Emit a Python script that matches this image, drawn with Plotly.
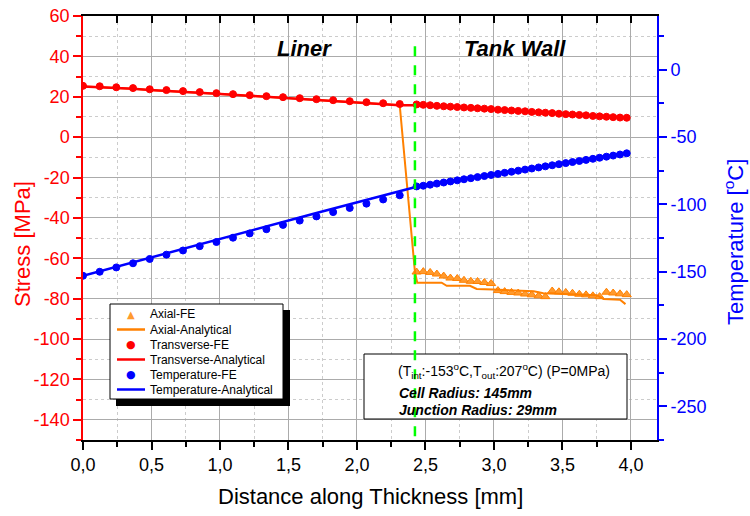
import plotly.graph_objects as go

# ---------------- data ----------------
# positions along thickness [mm]
x_liner = [0.000, 0.122, 0.243, 0.365, 0.487, 0.609, 0.730, 0.852, 0.974, 1.095,
           1.217, 1.339, 1.460, 1.582, 1.704, 1.826, 1.947, 2.069, 2.191, 2.312]
x_wall = [2.435, 2.484, 2.534, 2.583, 2.633, 2.682, 2.732, 2.781, 2.831, 2.880,
          2.930, 2.979, 3.029, 3.078, 3.128, 3.177, 3.227, 3.276, 3.326, 3.375,
          3.425, 3.474, 3.524, 3.573, 3.623, 3.672, 3.722, 3.771, 3.821, 3.870,
          3.920, 3.969]

# Transverse stress [MPa]
transverse_fe_liner = [25.4, 25.2, 24.7, 24.3, 23.7, 23.3, 22.8, 22.3, 21.8, 21.3,
                       20.8, 20.3, 19.8, 19.3, 18.8, 18.3, 17.8, 17.3, 16.8, 16.4]
transverse_fe_wall = [16.2, 16.0, 15.8, 15.5, 15.3, 15.1, 14.9, 14.7, 14.5, 14.3,
                      14.1, 13.9, 13.6, 13.4, 13.2, 13.0, 12.8, 12.5, 12.3, 12.1,
                      11.9, 11.6, 11.4, 11.2, 11.0, 10.8, 10.5, 10.3, 10.1, 9.9,
                      9.7, 9.6]
transverse_an_liner = [25.1, 24.8, 24.4, 24.0, 23.4, 23.0, 22.5, 22.0, 21.5, 21.0,
                       20.5, 20.0, 19.5, 19.0, 18.5, 18.0, 17.5, 17.0, 16.5, 15.8]
transverse_an_wall = [15.8, 15.6, 15.4, 15.2, 15.0, 14.8, 14.6, 14.4, 14.3, 14.1,
                      13.9, 13.7, 13.5, 13.3, 13.1, 12.9, 12.7, 12.5, 12.3, 12.1,
                      11.9, 11.7, 11.5, 11.3, 11.2, 11.0, 10.8, 10.6, 10.4, 10.2,
                      10.0, 9.9]

# Axial stress [MPa]
axial_fe_wall = [-66.8, -66.6, -67.0, -67.8, -68.8, -69.8, -70.0, -70.9, -71.4, -71.5,
                 -72.0, -72.5, -76.0, -76.5, -76.9, -77.2, -77.7, -78.1, -78.6, -79.0,
                 -76.2, -76.6, -76.9, -77.3, -77.8, -78.1, -78.6, -79.0, -76.8, -77.2,
                 -77.6, -78.0]
axial_an_x_tail = [2.423, 2.440, 2.618, 2.655, 2.825, 2.874, 2.995, 3.290, 3.360,
                   3.750, 3.800, 3.920, 3.960]
axial_an_tail = [-66.7, -72.1, -72.1, -73.6, -73.6, -75.2, -75.5, -76.3, -77.3,
                 -78.3, -80.2, -80.5, -82.7]

# Temperature [°C]
temp_fe_liner = [-153.0, -150.0, -146.8, -143.7, -140.5, -137.3, -134.2, -131.0, -127.9, -124.7,
                 -121.5, -118.4, -115.2, -112.0, -108.9, -105.7, -102.6, -99.4, -96.3, -93.2]
temp_fe_wall = [-86.6, -86.1, -85.3, -84.5, -83.7, -82.9, -82.1, -81.3, -80.5, -79.7,
                -78.9, -78.1, -77.3, -76.5, -75.7, -74.9, -74.1, -73.3, -72.5, -71.7,
                -70.9, -70.1, -69.3, -68.5, -67.7, -66.9, -66.1, -65.3, -64.5, -63.7,
                -62.9, -62.0]
temp_an_liner = [-153.0, -149.7, -146.3, -143.0, -139.7, -136.3, -133.0, -129.7, -126.3, -123.0,
                 -119.7, -116.3, -113.0, -109.7, -106.3, -103.0, -99.7, -96.3, -93.0, -89.7]
temp_an_wall = [-86.3, -85.5, -84.7, -83.9, -83.1, -82.3, -81.5, -80.7, -79.9, -79.1,
                -78.3, -77.5, -76.7, -75.9, -75.1, -74.3, -73.5, -72.7, -71.9, -71.1,
                -70.3, -69.5, -68.7, -67.9, -67.1, -66.3, -65.5, -64.7, -63.9, -63.1,
                -62.3, -61.5]

interface_x = 2.423

series_names = ["Axial-FE", "Axial-Analytical", "Transverse-FE",
                "Transverse-Analytical", "Temperature-FE", "Temperature-Analytical"]

# ticks
x_tick_vals = [0.0, 0.5, 1.0, 1.5, 2.0, 2.5, 3.0, 3.5, 4.0]
x_tick_text = ["0,0", "0,5", "1,0", "1,5", "2,0", "2,5", "3,0", "3,5", "4,0"]
y_tick_vals = [60, 40, 20, 0, -20, -40, -60, -80, -100, -120, -140]
y_tick_text = ["60", "40", "20", "0", "-20", "-40", "-60", "-80", "-100", "-120", "-140"]
t_tick_vals = [0, -50, -100, -150, -200, -250]
t_tick_text = ["0", "-50", "-100", "-150", "-200", "-250"]

# ---------------- figure ----------------
RED = "#FF0000"
BLUE = "#0000FF"
ORANGE = "#FF8000"
ORANGE_FE = "#FF9A2E"
FONT = "Arial, Liberation Sans, sans-serif"

# plot area in page pixels (body margin is removed by the post script)
PL, PR, PT, PB = 83, 657, 16, 440


def xp(px):
    return (px - PL) / (PR - PL)


def yp(py):
    return (PB - py) / (PB - PT)


fig = go.Figure()

fig.add_trace(go.Scatter(x=x_wall, y=axial_fe_wall, mode="markers", name=series_names[0],
                         marker=dict(symbol="triangle-up", size=8, color=ORANGE_FE,
                                     line=dict(color=ORANGE, width=1))))
fig.add_trace(go.Scatter(x=x_liner + axial_an_x_tail, y=transverse_an_liner + axial_an_tail,
                         mode="lines", name=series_names[1],
                         line=dict(color=ORANGE, width=2)))
fig.add_trace(go.Scatter(x=x_liner + x_wall, y=transverse_fe_liner + transverse_fe_wall,
                         mode="markers", name=series_names[2],
                         marker=dict(symbol="circle", size=7, color=RED,
                                     line=dict(color=RED, width=1))))
fig.add_trace(go.Scatter(x=x_liner + x_wall, y=transverse_an_liner + transverse_an_wall,
                         mode="lines", name=series_names[3],
                         line=dict(color=RED, width=2.5)))
fig.add_trace(go.Scatter(x=x_liner + x_wall, y=temp_fe_liner + temp_fe_wall,
                         mode="markers", name=series_names[4], yaxis="y2",
                         marker=dict(symbol="circle", size=7, color=BLUE,
                                     line=dict(color=BLUE, width=1))))
fig.add_trace(go.Scatter(x=x_liner + x_wall, y=temp_an_liner + temp_an_wall,
                         mode="lines", name=series_names[5], yaxis="y2",
                         line=dict(color=BLUE, width=2.5)))
# empty trace so that the top (frame) axis is drawn
fig.add_trace(go.Scatter(x=[], y=[], xaxis="x2", yaxis="y", showlegend=False,
                         hoverinfo="skip"))

MAJOR_GRID = "#ababab"
MINOR_GRID = "#cccccc"

W, H = 750, 516
fig.update_layout(
    width=W, height=H,
    margin=dict(l=PL, r=W - PR, t=PT, b=H - PB, autoexpand=False),
    paper_bgcolor="white", plot_bgcolor="white",
    font=dict(family=FONT, size=18, color="black"),
    separators=",.",
    showlegend=False,
    xaxis=dict(range=[0, 4.19], tickmode="array", tickvals=x_tick_vals, ticktext=x_tick_text,
               ticks="outside", ticklen=8, tickwidth=1.5, tickcolor="black", automargin=False,
               ticklabeloverflow="allow", mirror=True,
               showline=True, linecolor="black", linewidth=1.5,
               showgrid=True, gridcolor=MAJOR_GRID, gridwidth=1, zeroline=False,
               tickfont=dict(size=18, color="black"),
               minor=dict(dtick=0.25, tick0=0, ticks="outside", ticklen=5, tickwidth=1.5,
                          tickcolor="black", showgrid=True, gridcolor=MINOR_GRID,
                          griddash="dot", gridwidth=1)),
    xaxis2=dict(overlaying="x", side="top", anchor="y", range=[0, 4.19], tickmode="linear",
                dtick=0.25, tick0=0, ticks="inside", ticklen=7, tickwidth=1.5, automargin=False,
                tickcolor="black", showticklabels=False, showline=True, linecolor="black",
                linewidth=1.5, showgrid=False, zeroline=False),
    yaxis=dict(range=[-150, 60], tickmode="array", tickvals=y_tick_vals, ticktext=y_tick_text,
               ticks="outside", ticklen=8, tickwidth=1.5, tickcolor=RED, automargin=False,
               ticklabeloverflow="allow",
               tickfont=dict(size=18, color=RED),
               showline=True, linecolor=RED, linewidth=1.5,
               showgrid=True, gridcolor=MAJOR_GRID, gridwidth=1, zeroline=False,
               minor=dict(dtick=10, tick0=0, ticks="outside", ticklen=5, tickwidth=1.5,
                          tickcolor=RED, showgrid=True, gridcolor=MINOR_GRID,
                          griddash="dot", gridwidth=1)),
    yaxis2=dict(overlaying="y", side="right", anchor="x", range=[-275, 40], tickmode="array",
                tickvals=t_tick_vals, ticktext=t_tick_text, automargin=False,
                ticklabeloverflow="allow",
                ticks="outside", ticklen=8, tickwidth=1.5, tickcolor=BLUE,
                tickfont=dict(size=18, color=BLUE),
                showline=True, linecolor=BLUE, linewidth=2, showgrid=False, zeroline=False,
                minor=dict(dtick=25, tick0=0, ticks="outside", ticklen=5, tickwidth=1.5,
                           tickcolor=BLUE, showgrid=False)),
)

# ---- legend (drawn as shapes + text) ----
LX0, LX1, LY0, LY1 = 110, 283, 304, 399
fig.add_shape(type="rect", xref="paper", yref="paper", x0=xp(LX0 + 6), x1=xp(LX1 + 7),
              y0=yp(LY1 + 7), y1=yp(LY0 + 6), fillcolor="black", line=dict(width=0), layer="above")
fig.add_shape(type="rect", xref="paper", yref="paper", x0=xp(LX0), x1=xp(LX1),
              y0=yp(LY1), y1=yp(LY0), fillcolor="white", line=dict(color="black", width=1),
              layer="above")
legend_kinds = [("tri", ORANGE_FE), ("line", ORANGE), ("dot", RED),
                ("line", RED), ("dot", BLUE), ("line", BLUE)]
row_y = [314, 329.5, 344.5, 359.5, 374.5, 389.5]
for name, (kind, col), ry in zip(series_names, legend_kinds, row_y):
    if kind == "line":
        fig.add_shape(type="line", xref="paper", yref="paper", x0=xp(117), x1=xp(145),
                      y0=yp(ry), y1=yp(ry), line=dict(color=col, width=2.5), layer="above")
    else:
        sym = "\u25B2" if kind == "tri" else "\u25CF"
        fig.add_annotation(text=sym, x=xp(131), y=yp(ry), xref="paper", yref="paper",
                           showarrow=False, xanchor="center", yanchor="middle",
                           font=dict(family="DejaVu Sans", size=10 if kind == "tri" else 11,
                                     color=col))
    fig.add_annotation(text=name, x=xp(148), y=yp(ry), xref="paper", yref="paper",
                       showarrow=False, xanchor="left", yanchor="middle",
                       font=dict(family=FONT, size=12, color="black"))

# info box and interface line
fig.add_shape(type="rect", xref="paper", yref="paper", x0=xp(364), x1=xp(627), y0=yp(419), y1=yp(354),
              fillcolor="white", line=dict(color="black", width=1), layer="above")
fig.add_shape(type="line", xref="x", yref="y", x0=interface_x, x1=interface_x, y0=45, y1=-150,
              line=dict(color="#00FF00", width=2.5, dash="10px,9px"), layer="above")

ann = [
    dict(text="<b><i>Liner</i></b>", x=1.62, y=43.9, xref="x", yref="y",
         font=dict(size=22, color="black")),
    dict(text="<b><i>Tank Wall</i></b>", x=3.153, y=43.9, xref="x", yref="y",
         font=dict(size=22, color="black")),
    dict(text="(T<sub>int</sub>:-153<sup>o</sup>C,T<sub>out</sub>:207<sup>o</sup>C) (P=0MPa)",
         x=xp(396), y=yp(371), xref="paper", yref="paper", xanchor="left",
         font=dict(size=14, color="black")),
    dict(text="<b><i>Cell Radius: 145mm</i></b>", x=xp(397), y=yp(392.5), xref="paper", yref="paper",
         xanchor="left", font=dict(size=14, color="black")),
    dict(text="<b><i>Junction Radius: 29mm</i></b>", x=xp(397), y=yp(410), xref="paper", yref="paper",
         xanchor="left", font=dict(size=14, color="black")),
    dict(text="Stress [MPa]", x=xp(22), y=yp(244), xref="paper", yref="paper", textangle=-90,
         font=dict(size=22, color=RED)),
    dict(text="Temperature [<sup>o</sup>C]", x=xp(734), y=yp(242), xref="paper", yref="paper",
         textangle=-90, font=dict(size=22, color=BLUE)),
    dict(text="Distance along Thickness [mm]", x=0.5, y=yp(496), xref="paper", yref="paper",
         font=dict(size=22, color="black")),
]
for a in ann:
    a.setdefault("showarrow", False)
    a.setdefault("xanchor", "center")
    a.setdefault("yanchor", "middle")
    fig.add_annotation(**a)

fig.write_html("out.html", config={"displayModeBar": False},
               post_script="document.body.style.margin='0px';document.body.style.overflow='hidden';")
